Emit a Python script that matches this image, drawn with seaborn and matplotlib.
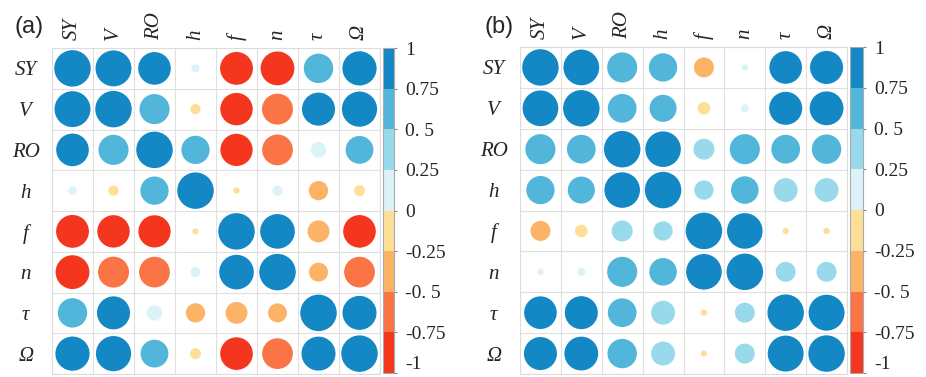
import numpy as np
import pandas as pd
import matplotlib
matplotlib.use("Agg")
import matplotlib.pyplot as plt
import matplotlib.colors as mcolors
import matplotlib.cm as cm
import seaborn as sns

# Variables and correlation values (upper triangle, row by row)
variables = ["SY", "V", "RO", "h", "f", "n", "τ", "Ω"]

upper_a = [
    [0.97, 0.80, 0.05, -0.81, -0.86, 0.65, 0.88],
    [0.68, -0.08, -0.79, -0.72, 0.82, 0.93],
    [0.60, -0.78, -0.71, 0.18, 0.58],
    [-0.03, 0.08, -0.28, -0.09],
    [0.90, -0.36, -0.80],
    [-0.27, -0.71],
    [0.87],
]

upper_b = [
    [0.96, 0.68, 0.60, -0.30, 0.03, 0.80, 0.82],
    [0.62, 0.55, -0.12, 0.05, 0.82, 0.86],
    [0.95, 0.33, 0.68, 0.62, 0.65],
    [0.28, 0.57, 0.43, 0.43],
    [0.95, -0.03, -0.03],
    [0.30, 0.30],
    [0.97],
]

bounds = [-1, -0.75, -0.5, -0.25, 0, 0.25, 0.5, 0.75, 1]
bound_labels = ["-1", "-0.75", "-0. 5", "-0.25", "0", "0.25", "0. 5", "0.75", "1"]
bin_colors = ["#f4361f", "#fa7446", "#fdb366", "#fedf98",
              "#dcf2f9", "#98daec", "#52b5da", "#1487c5"]


def full_matrix(upper):
    k = len(variables)
    m = np.eye(k)
    for i, row in enumerate(upper):
        for j, v in enumerate(row):
            m[i, i + 1 + j] = v
            m[i + 1 + j, i] = v
    return m


def to_long(m):
    rows, cols = np.indices(m.shape)
    return pd.DataFrame({"row": rows.ravel(), "col": cols.ravel(),
                         "r": m.ravel(), "absr": np.abs(m.ravel())})


sns.set_style("white")
plt.rcParams["font.family"] = ["Liberation Serif", "DejaVu Serif"]

cmap = mcolors.ListedColormap(bin_colors)
norm = mcolors.BoundaryNorm(bounds, cmap.N)

W, H = 926, 377
fig = plt.figure(figsize=(W / 100, H / 100), dpi=100)


def px(x0, y0, x1, y1):
    return [x0 / W, 1 - y1 / H, (x1 - x0) / W, (y1 - y0) / H]


def draw_panel(ax, cax, upper):
    df = to_long(full_matrix(upper))
    sns.scatterplot(data=df, x="col", y="row", hue="r", hue_norm=norm,
                    palette=cmap, size="absr", sizes=(0, 690), size_norm=(0, 1),
                    linewidth=0, legend=False, ax=ax, zorder=3)
    ax.set_xlim(-0.5, 7.5)
    ax.set_ylim(7.5, -0.5)
    ax.set_xticks(range(8))
    ax.set_yticks(range(8))
    ax.set_xticklabels(variables, rotation=90, fontsize=15, style="italic")
    ax.set_yticklabels(variables, fontsize=15, style="italic", ha="center")
    ax.xaxis.tick_top()
    ax.tick_params(axis="x", which="major", length=0, pad=6)
    ax.tick_params(axis="y", which="major", length=0, pad=19)
    ax.set_xticks(np.arange(-0.5, 8, 1), minor=True)
    ax.set_yticks(np.arange(-0.5, 8, 1), minor=True)
    ax.tick_params(which="minor", length=0)
    ax.grid(which="minor", color="#e0e0e0", lw=0.8)
    ax.grid(which="major", visible=False)
    ax.set_xlabel("")
    ax.set_ylabel("")
    for s in ax.spines.values():
        s.set_color("#dcdcdc")

    cb = fig.colorbar(cm.ScalarMappable(norm=norm, cmap=cmap), cax=cax, ticks=bounds)
    cb.ax.set_yticklabels(bound_labels, fontsize=14)
    cb.ax.tick_params(length=2, color="#888888", pad=6)
    cb.ax.get_yticklabels()[0].set_verticalalignment("bottom")
    cb.outline.set_edgecolor("#aaaaaa")
    cb.outline.set_linewidth(0.8)


ax_a = fig.add_axes(px(52, 48, 380, 374))
cax_a = fig.add_axes(px(383, 48, 394, 373))
draw_panel(ax_a, cax_a, upper_a)

ax_b = fig.add_axes(px(520, 47, 847, 374))
cax_b = fig.add_axes(px(850, 47, 863, 373))
draw_panel(ax_b, cax_b, upper_b)

fig.text(14 / W, 1 - 27 / H, "(a)", fontsize=17, family="Liberation Sans", va="center")
fig.text(485 / W, 1 - 27 / H, "(b)", fontsize=17, family="Liberation Sans", va="center")

fig.savefig("out.png", dpi=100)
